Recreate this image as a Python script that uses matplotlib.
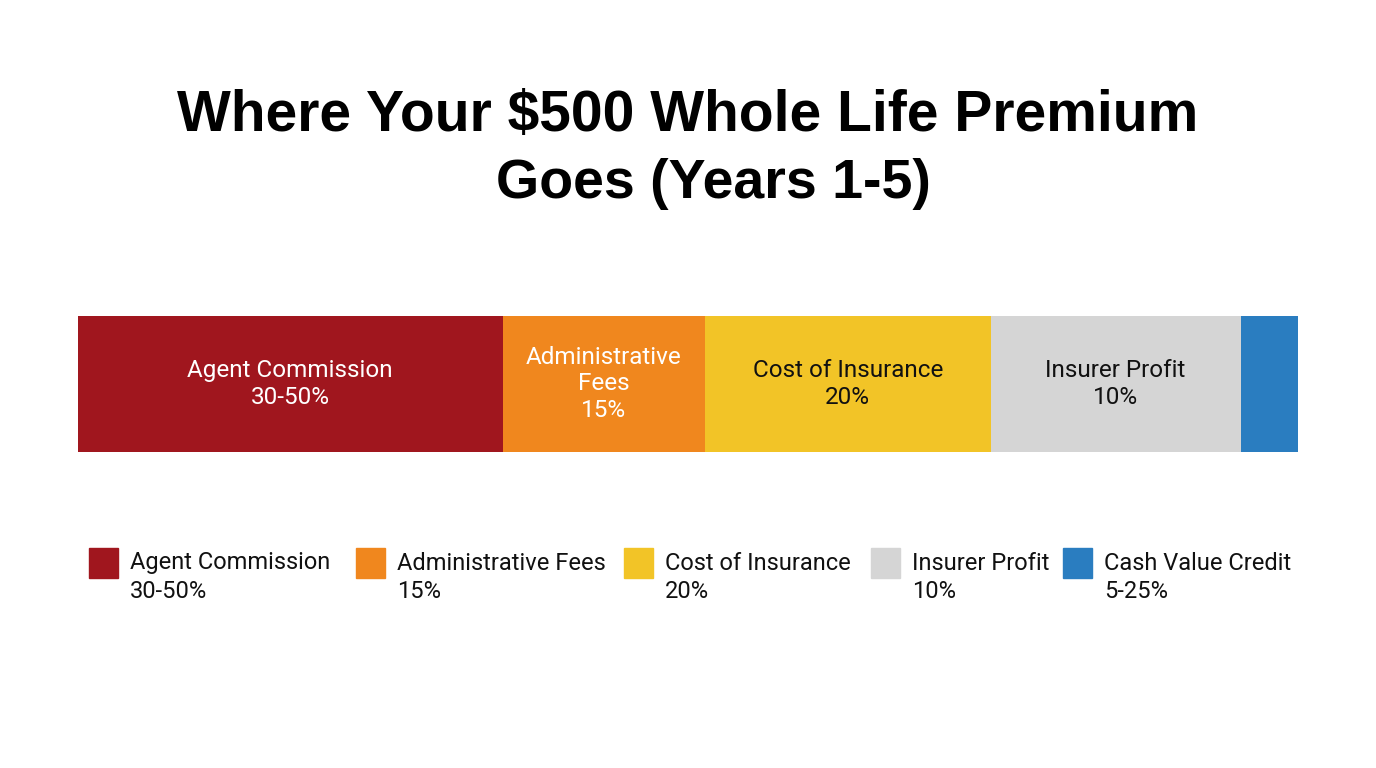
import matplotlib.pyplot as plt
from matplotlib.patches import Rectangle

categories = ['Agent Commission', 'Administrative Fees', 'Cost of Insurance',
              'Insurer Profit', 'Cash Value Credit']
bar_labels = ['Agent Commission', 'Administrative\nFees', 'Cost of Insurance',
              'Insurer Profit', '']
pct_labels = ['30-50%', '15%', '20%', '10%', '5-25%']
# share of the bar width
widths = [34.8, 16.6, 23.4, 20.5, 4.7]
colors = ['#A0161E', '#F0871E', '#F2C427', '#D5D5D5', '#2A7DC0']
text_colors = ['white', 'white', '#111111', '#111111', 'white']
title_lines = ['Where Your $500 Whole Life Premium', 'Goes (Years 1-5)']

plt.rcParams['font.family'] = ['Roboto', 'DejaVu Sans']

fig = plt.figure(figsize=(13.76, 7.68), dpi=100)
fig.patch.set_facecolor('white')

W, H = 1376, 768
# two title lines, the second sits a little right of centre as in the original
fig.text(688 / W, 1 - 116 / H, title_lines[0], ha='center', va='center',
         fontsize=41, fontweight='bold', family='Liberation Sans')
fig.text(713 / W, 1 - 184 / H, title_lines[1], ha='center', va='center',
         fontsize=40, fontweight='bold', family='Liberation Sans')

ax = fig.add_axes([0.0567, 0.4115, 0.8866, 0.1771])
left = 0
for w, c, lab, pct, tc in zip(widths, colors, bar_labels, pct_labels, text_colors):
    ax.barh(0, w, left=left, height=1, color=c, edgecolor='none')
    if lab:
        ax.text(left + w / 2, 0, lab + '\n' + pct, ha='center', va='center',
                color=tc, fontsize=17.5, linespacing=1.2)
    left += w
ax.set_xlim(0, sum(widths))
ax.set_ylim(-0.5, 0.5)
ax.axis('off')

# legend drawn by hand so the swatch sits on the first line
lx = [89, 356, 624, 871, 1063]
for x, c, name, pct in zip(lx, colors, categories, pct_labels):
    fig.patches.append(Rectangle((x / W, 1 - 578 / H), 29 / W, 30 / H,
                                 transform=fig.transFigure, color=c))
    fig.text((x + 41) / W, 1 - 563 / H, name, ha='left', va='center',
             fontsize=17, color='#111111')
    fig.text((x + 41) / W, 1 - 591 / H, pct, ha='left', va='center',
             fontsize=17, color='#111111')

fig.savefig('out.png', dpi=100, facecolor='white')
